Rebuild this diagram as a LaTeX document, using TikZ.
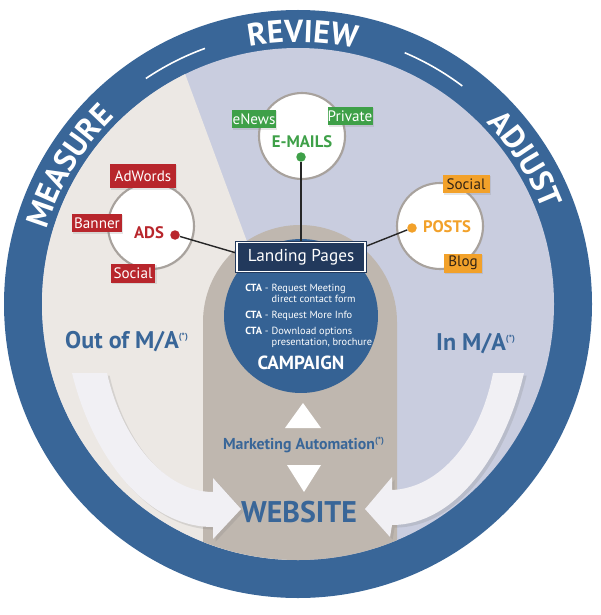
\documentclass[tikz,border=0pt]{standalone}
\usepackage{fontspec}
\setmainfont{PT Sans}
\usepackage{tikz}
\usetikzlibrary{positioning,calc,shadows,decorations.text}

\definecolor{ringblue}{RGB}{57,102,152}
\definecolor{campblue}{RGB}{53,98,148}
\definecolor{beige}{RGB}{236,232,228}
\definecolor{lavender}{RGB}{201,205,223}
\definecolor{taupe}{RGB}{191,183,175}
\definecolor{navy}{RGB}{34,57,92}
\definecolor{adred}{RGB}{184,38,44}
\definecolor{mailgreen}{RGB}{62,160,72}
\definecolor{postorange}{RGB}{242,161,42}
\definecolor{arrowwhite}{RGB}{241,240,244}
\definecolor{hubgray}{RGB}{168,162,157}
\definecolor{tagtext}{RGB}{50,35,20}

\newcommand{\ringfont}{\fontsize{18}{20}\selectfont\bfseries}
\newcommand{\mastar}{\textsuperscript{\fontsize{5}{5}\selectfont(*)}}

\tikzset{
    hub/.style={circle, fill=white, draw=hubgray, line width=1.2pt, minimum size=1.72cm, inner sep=0pt,
        drop shadow={opacity=0.15, shadow xshift=0.6pt, shadow yshift=-0.6pt}},
    hubdot/.style={circle, fill=#1, inner sep=0pt, minimum size=0.19cm},
    hubtext/.style={text=#1, font=\fontsize{9.5}{10}\selectfont\bfseries, inner sep=0pt},
    labeltag/.style={fill=#1, text=white, inner sep=0pt, minimum height=0.38cm,
        font=\fontsize{8.6}{9}\selectfont,
        drop shadow={opacity=0.2, shadow xshift=0.6pt, shadow yshift=-0.6pt}},
    bigarrow/.style={fill=arrowwhite, drop shadow={opacity=0.22, shadow xshift=1.5pt, shadow yshift=-1.5pt}},
    bluetext/.style={text=ringblue, inner sep=0pt},
    landing/.style={fill=navy, draw=navy, double=white, double distance=0.7pt, line width=0.6pt,
        text=white, minimum width=2.56cm, minimum height=0.58cm, inner sep=0pt,
        font=\fontsize{9.8}{11}\selectfont},
    ringlabel/.style={decorate, decoration={text along path, text align=center,
        text color=white, text={|\ringfont|#1}}},
}

\begin{document}
\begin{tikzpicture}[x=0.02cm, y=-0.02cm]
    \useasboundingbox (0,0) rectangle (600,615);

    % outer ring
    \fill[ringblue] (298,304) circle (294);
    \draw[white, line width=0.9pt] (298,304) ++(-124:272) arc[start angle=-124, end angle=-110, radius=272];
    \draw[white, line width=0.9pt] (298,304) ++(-67:273) arc[start angle=-67, end angle=-53, radius=273];

    % ring labels
    \path[ringlabel=REVIEW] (298,304) ++(-125:262) arc[start angle=-125, end angle=-53, radius=262];
    \path[ringlabel=MEASURE] (298,304) ++(-190:262) arc[start angle=-190, end angle=-108, radius=262];
    \path[ringlabel=ADJUST] (298,304) ++(-75:262) arc[start angle=-75, end angle=10, radius=262];

    % inner fields
    \begin{scope}
        \clip (298,304) circle (256);
        \fill[lavender] (0,0) rectangle (600,615);
        \fill[beige] (160,6) -- (290,358) -- (290,615) -- (0,615) -- (0,6) -- cycle;
        \fill[taupe] (203,615) -- (203,322) arc[start angle=180, end angle=360, radius=97] -- (397,615) -- cycle;
    \end{scope}

    % big arrows into the website
    \fill[bigarrow] (72,373) .. controls (92,455) and (145,527) .. (213,527) -- (213,539) -- (241,509)
        -- (213,478) -- (213,492) .. controls (165,492) and (122,440) .. (107,373) -- cycle;
    \fill[bigarrow] (524,373) .. controls (505,455) and (455,525) .. (392,525) -- (390,537) -- (365,509)
        -- (392,477) -- (392,490) .. controls (440,488) and (480,440) .. (493,373) -- cycle;

    % campaign
    \node[circle, fill=campblue, minimum size=3.08cm, inner sep=0pt] (campaign) at (301,316) {};
    \node[text=white, font=\fontsize{10.8}{12}\selectfont\bfseries, inner sep=0pt] (camptitle) at (301,363) {CAMPAIGN};
    \node[text=white, font=\fontsize{5.9}{6.3}\selectfont, inner sep=0pt, anchor=north west] (cta) at (245,283) {%
        \renewcommand{\arraystretch}{1}%
        \begin{tabular}{@{}l@{\hspace{0.3em}}l@{}}
            \textbf{CTA} - & Request Meeting\\
            & direct contact form\\[3pt]
            \textbf{CTA} - & Request More Info\\[3pt]
            \textbf{CTA} - & Download options\\
            & presentation, brochure
        \end{tabular}};

    % marketing automation
    \fill[white] (285,428) -- (303,403) -- (321,428) -- cycle;
    \node[bluetext, font=\fontsize{9}{10}\selectfont\bfseries] (automation) at (304,445) {Marketing Automation\mastar};
    \fill[white] (287,465) -- (321,465) -- (304,492) -- cycle;
    \node[bluetext, font=\fontsize{17}{20}\selectfont\bfseries] (website) at (299,512) {WEBSITE};

    \node[bluetext, font=\fontsize{13.7}{16}\selectfont\bfseries] (outma) at (127,342) {Out of M/A\mastar};
    \node[bluetext, font=\fontsize{13.7}{16}\selectfont\bfseries] (inma) at (476,344) {In M/A\mastar};

    % channel hubs
    \node[hub] (adshub) at (151,226) {};
    \node[hub] (mailhub) at (302,136) {};
    \node[hub] (posthub) at (440,226) {};

    \node[hubtext=adred] (ads) at (149,233) {ADS};
    \node[hubtext=mailgreen] (mails) at (302,142) {E-MAILS};
    \node[hubtext=postorange] (posts) at (447,227) {POSTS};

    \node[hubdot=adred] (adsdot) at (175,235) {};
    \node[hubdot=mailgreen] (maildot) at (301,157) {};
    \node[hubdot=postorange] (postdot) at (412,228) {};

    % tags
    \node[labeltag=adred, minimum width=1.32cm, minimum height=0.5cm] (adwords) at (143,176) {AdWords};
    \node[labeltag=adred, minimum width=1.0cm] (banner) at (97,223) {Banner};
    \node[labeltag=adred, minimum width=0.9cm] (adsocial) at (133,273) {Social};
    \node[labeltag=mailgreen, minimum width=0.88cm] (enews) at (254,119) {eNews};
    \node[labeltag=mailgreen, minimum width=0.9cm] (private) at (350,116) {Private};
    \node[labeltag=postorange, text=tagtext, minimum width=0.94cm] (postsocial) at (466,184) {Social};
    \node[labeltag=postorange, text=tagtext, minimum width=0.76cm] (blog) at (463,263) {Blog};

    % connectors to the landing pages
    \coordinate (hub) at (301,272);
    \draw[line width=0.8pt, black!85] (adsdot) -- (hub);
    \draw[line width=0.8pt, black!85] (maildot) -- (hub);
    \draw[line width=0.8pt, black!85] (postdot) -- (hub);

    \node[landing] (landing) at (301,257) {Landing Pages};
\end{tikzpicture}
\end{document}
